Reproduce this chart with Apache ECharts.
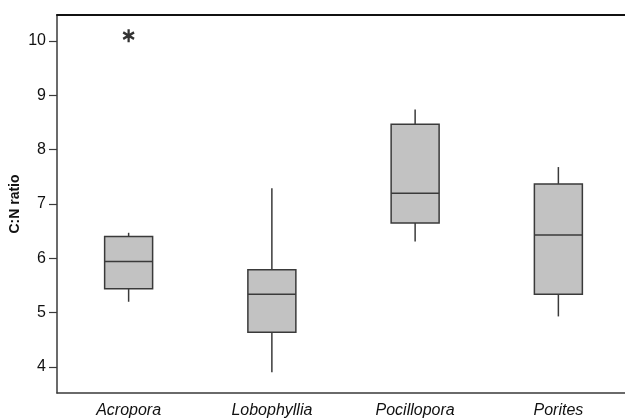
<!DOCTYPE html>
<html>
<head>
<meta charset="utf-8">
<script src="https://cdn.jsdelivr.net/npm/echarts@6/dist/echarts.min.js"></script>
<style>html,body{margin:0;padding:0;background:#fff;overflow:hidden}#c{width:630px;height:420px}</style>
</head>
<body>
<div id="c"></div>
<script>
var categories = ['Acropora', 'Lobophyllia', 'Pocillopora', 'Porites'];
// [whisker low, Q1, median, Q3, whisker high]
var boxMin    = [5.20, 3.90, 6.31, 4.93];
var boxQ1     = [5.44, 4.64, 6.65, 5.34];
var boxMedian = [5.94, 5.34, 7.20, 6.43];
var boxQ3     = [6.40, 5.79, 8.47, 7.37];
var boxMax    = [6.47, 7.29, 8.74, 7.68];
var outliers  = [['Acropora', 10.1]];
var yTicks    = [4, 5, 6, 7, 8, 9, 10];

var boxData = categories.map(function (c, i) {
  return [i, boxMin[i], boxQ1[i], boxMedian[i], boxQ3[i], boxMax[i]];
});

var asterisk = 'path://M41 0 L59 0 L59 100 L41 100 Z ' +
  'M2.2 33.0 L11.2 17.0 L97.8 67.0 L88.8 83.0 Z ' +
  'M11.2 83.0 L2.2 67.0 L88.8 17.0 L97.8 33.0 Z';

var chart = echarts.init(document.getElementById('c'));
var lineCol = '#3a3a3a';
chart.setOption({
  animation: false,
  backgroundColor: '#fff',
  grid: { left: 57, right: 0, top: 15, bottom: 27, containLabel: false, outerBoundsMode: 'none' },
  xAxis: [{
    type: 'category',
    data: categories,
    axisLine: { lineStyle: { color: lineCol, width: 1.5 } },
    axisTick: { alignWithLabel: true, length: 6, lineStyle: { color: lineCol, width: 1.5 } },
    axisLabel: { fontFamily: 'Liberation Sans, Arial, sans-serif', fontStyle: 'italic', fontSize: 16, color: '#111', margin: 10 },
    splitLine: { show: false }
  }, {
    type: 'category',
    data: categories,
    position: 'top',
    axisLine: { lineStyle: { color: '#111', width: 2 } },
    axisTick: { show: false },
    axisLabel: { show: false }
  }],
  yAxis: {
    type: 'value',
    min: 3.52,
    max: 10.48,
    name: 'C:N ratio',
    nameLocation: 'middle',
    nameGap: 35,
    nameMoveOverlap: false,
    nameTextStyle: { fontFamily: 'Liberation Sans, Arial, sans-serif', fontWeight: 'bold', fontSize: 14, color: '#111' },
    axisLine: { show: true, lineStyle: { color: lineCol, width: 1.5 } },
    axisTick: { show: true, length: 8, customValues: yTicks, lineStyle: { color: lineCol, width: 1.2 } },
    axisLabel: { customValues: yTicks, fontFamily: 'Liberation Sans, Arial, sans-serif', fontSize: 16, color: '#111', margin: 11 },
    splitLine: { show: false }
  },
  series: [{
    type: 'custom',
    data: boxData,
    encode: { x: 0, y: [1, 2, 3, 4, 5] },
    renderItem: function (params, api) {
      var idx = api.value(0);
      var pMin = api.coord([idx, api.value(1)]);
      var pQ1 = api.coord([idx, api.value(2)]);
      var pMed = api.coord([idx, api.value(3)]);
      var pQ3 = api.coord([idx, api.value(4)]);
      var pMax = api.coord([idx, api.value(5)]);
      var bw = api.size([1, 0])[0] * 0.335;
      var x = pMed[0];
      var st = { stroke: lineCol, lineWidth: 1.5, fill: null };
      return {
        type: 'group',
        children: [
          { type: 'line', shape: { x1: x, y1: pMax[1], x2: x, y2: pQ3[1] }, style: st },
          { type: 'line', shape: { x1: x, y1: pQ1[1], x2: x, y2: pMin[1] }, style: st },
          { type: 'rect', shape: { x: x - bw / 2, y: pQ3[1], width: bw, height: pQ1[1] - pQ3[1] },
            style: { fill: '#c2c2c2', stroke: lineCol, lineWidth: 1.5 } },
          { type: 'line', shape: { x1: x - bw / 2, y1: pMed[1], x2: x + bw / 2, y2: pMed[1] }, style: st }
        ]
      };
    }
  }, {
    type: 'scatter',
    data: outliers,
    symbol: asterisk,
    symbolSize: [12, 13],
    itemStyle: { color: '#000' }
  }]
});
</script>
</body>
</html>
